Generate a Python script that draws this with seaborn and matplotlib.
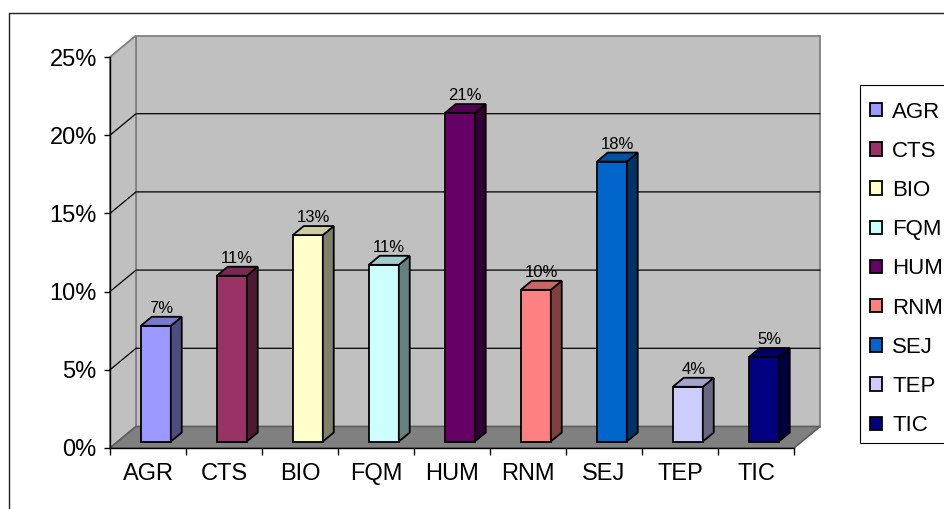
import matplotlib
matplotlib.use("Agg")
import matplotlib.pyplot as plt
import seaborn as sns
import pandas as pd
from matplotlib.patches import Polygon, Rectangle
from matplotlib.lines import Line2D
from matplotlib.colors import to_rgb

# Share of each research area (percent)
areas = ["AGR", "CTS", "BIO", "FQM", "HUM", "RNM", "SEJ", "TEP", "TIC"]
shares = [7.4, 10.6, 13.2, 11.3, 21.0, 9.7, 17.9, 3.5, 5.4]
colors = ["#9999FF", "#993366", "#FFFFCC", "#CCFFFF", "#660066",
          "#FF8080", "#0066CC", "#CCCCFF", "#000080"]
y_ticks = [0, 5, 10, 15, 20, 25]
y_tick_labels = ["0%", "5%", "10%", "15%", "20%", "25%"]

sns.set_theme(style="white")
plt.rcParams["font.family"] = ["Liberation Sans", "DejaVu Sans"]

W, H = 944, 509
fig = plt.figure(figsize=(W / 100, H / 100), dpi=100)
ax = fig.add_axes([110 / W, 61 / H, 684 / W, 391 / H])
ax.set_facecolor("none")

df = pd.DataFrame({"area": areas, "share": shares})
sns.barplot(data=df, x="area", y="share", hue="area", palette=colors,
            saturation=1, width=0.395, edgecolor="black", linewidth=1.3,
            legend=False, ax=ax, zorder=3)

ax.set_xlim(-0.5, 8.5)
ax.set_ylim(0, 25)

# Oblique depth vector (in data units) for the 3-D box
px_x = 684 / 9.0
px_y = 391 / 25.0
DX = 26 / px_x
DY = 21.5 / px_y
t0, t1 = 0.30, 0.72          # front and back planes of the bars
bd = t1 - t0

bars = sorted(ax.patches, key=lambda p: p.get_x())

wall_c, floor_c, edge_c = "#C0C0C0", "#808080", "#808080"
back = Polygon([(-0.5 + DX, DY), (8.5 + DX, DY), (8.5 + DX, 25 + DY), (-0.5 + DX, 25 + DY)],
               closed=True, fc=wall_c, ec=edge_c, lw=1.3, clip_on=False, zorder=0.5)
side = Polygon([(-0.5, 0), (-0.5 + DX, DY), (-0.5 + DX, 25 + DY), (-0.5, 25)],
               closed=True, fc=wall_c, ec=edge_c, lw=1.3, clip_on=False, zorder=0.5)
floor = Polygon([(-0.5, 0), (8.5, 0), (8.5 + DX, DY), (-0.5 + DX, DY)],
                closed=True, fc=floor_c, ec="#606060", lw=1.3, clip_on=False, zorder=0.6)
for p in (back, side, floor):
    ax.add_patch(p)

for v in y_ticks[1:-1]:
    ax.plot([-0.5, -0.5 + DX, 8.5 + DX], [v, v + DY, v + DY], color="black",
            lw=0.9, clip_on=False, zorder=0.8)


def shade(c, f):
    r, g, b = to_rgb(c)
    return (r * f, g * f, b * f)


for bar, val in zip(bars, shares):
    bar.set_x(bar.get_x() + t0 * DX)
    bar.set_y(t0 * DY)
    x0 = bar.get_x()
    x1 = x0 + bar.get_width()
    b = bar.get_y()
    h = bar.get_height()
    fc = bar.get_facecolor()[:3]
    ox, oy = bd * DX, bd * DY
    ax.add_patch(Polygon([(x1, b), (x1 + ox, b + oy), (x1 + ox, b + h + oy), (x1, b + h)],
                         closed=True, fc=shade(fc, 0.5), ec="black", lw=1.3,
                         clip_on=False, zorder=3))
    ax.add_patch(Polygon([(x0, b + h), (x1, b + h), (x1 + ox, b + h + oy), (x0 + ox, b + h + oy)],
                         closed=True, fc=shade(fc, 0.8), ec="black", lw=1.3,
                         clip_on=False, zorder=3))
    ax.text((x0 + x1) / 2 + ox / 2, b + h + oy + 0.05, f"{val:.0f}%",
            ha="center", va="bottom", fontsize=12, color="black", zorder=4)

# Axes: front value axis and category axis
for s in ("top", "right"):
    ax.spines[s].set_visible(False)
for s in ("left", "bottom"):
    ax.spines[s].set_color("black")
    ax.spines[s].set_linewidth(1.0)
    ax.spines[s].set_zorder(2)

ax.set_yticks(y_ticks)
ax.set_yticklabels(y_tick_labels)
ax.tick_params(axis="y", which="major", left=True, length=4, width=1, color="black",
               direction="out", pad=5.5, labelsize=17, labelcolor="black")
ax.set_xticks([i - 0.5 for i in range(len(areas) + 1)])
ax.set_xticklabels([""] * (len(areas) + 1))
ax.set_xticks(range(len(areas)), minor=True)
ax.set_xticklabels(areas, minor=True)
ax.tick_params(axis="x", which="major", bottom=True, length=5, width=1, color="black",
               direction="out")
ax.tick_params(axis="x", which="minor", bottom=True, length=0, pad=10.5,
               labelsize=17, labelcolor="black")
ax.set_xlabel("")
ax.set_ylabel("")
ax.grid(False)

# Legend box and entries
legend_box = Rectangle((860 / W, 1 - 443 / H), 100 / W, (443 - 85) / H,
                       transform=fig.transFigure, fc="white", ec="black", lw=0.8,
                       clip_on=False, zorder=4.5)
ax.add_artist(legend_box)
leg = ax.legend(handles=bars, labels=areas, loc="upper left",
                bbox_to_anchor=(870 / W, 1 - 101.5 / H), bbox_transform=fig.transFigure,
                frameon=False, fontsize=16,
                handlelength=0.55, handleheight=0.55, handletextpad=0.45,
                labelspacing=0.82, borderpad=0, borderaxespad=0)
leg.set_zorder(6)
for t in leg.get_texts():
    t.set_color("black")

# Chart-area border
fig.add_artist(Line2D([9 / W, 9 / W], [0, 1 - 13 / H], color="#202020", lw=1.0))
fig.add_artist(Line2D([9 / W, 1], [1 - 13 / H, 1 - 13 / H], color="#202020", lw=1.0))

fig.savefig("out.png", dpi=100)
